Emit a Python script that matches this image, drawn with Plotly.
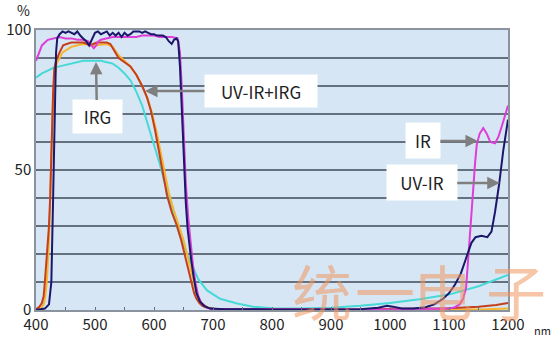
import plotly.graph_objects as go

# ---------------- data ----------------
wl_uvir = [400, 415, 422, 426, 429, 432, 434, 436, 440, 445, 450, 455, 460, 465, 470, 475, 480, 485, 490, 495,
           500, 505, 510, 515, 520, 525, 530, 535, 540, 545, 550, 555, 560, 565, 570, 575, 580, 585, 590, 595,
           600, 605, 610, 615, 620, 625, 630, 634, 638, 641, 644, 648, 651, 654, 657, 660, 663, 667, 672, 678,
           685, 695, 720, 800, 880, 950, 980, 995, 1005, 1020, 1040, 1060, 1075, 1090, 1100, 1110, 1120, 1130,
           1138, 1145, 1155, 1165, 1172, 1178, 1185, 1192, 1200]
t_uvir = [0, 0.5, 2, 10, 40, 75, 92, 97, 98.5, 99.5, 99, 99.5, 99, 98.5, 99.5, 98, 97, 96, 94.5, 96.5,
          99, 99.5, 98.5, 99, 99.5, 98, 99, 98, 99, 97.5, 99, 98, 98.5, 99.5, 99.5, 99.5, 99, 99.5, 99, 98.5,
          98.5, 98, 98, 98, 97.5, 96, 95, 96.5, 97, 96, 87, 65, 50, 38, 29, 23, 18, 12, 6, 3,
          1.5, 0.5, 0.3, 0.2, 0.2, 0.3, 0.8, 1.5, 1.2, 0.5, 0.5, 1, 2, 4, 6, 9, 13, 19,
          24, 26, 26.5, 26, 28, 35, 45, 57, 68]

wl_ir = [400, 405, 410, 420, 430, 440, 450, 460, 470, 480, 488, 494, 498, 502, 506, 510, 520, 530, 540, 550,
         560, 570, 580, 590, 600, 610, 620, 630, 640, 644, 647, 650, 654, 658, 662, 666, 670, 675, 680, 690,
         700, 800, 900, 1000, 1100, 1110, 1118, 1124, 1129, 1132, 1135, 1138, 1141, 1144, 1147, 1152, 1158,
         1164, 1170, 1178, 1184, 1190, 1195, 1200]
t_ir = [89, 92, 94.5, 96.5, 97, 97.5, 97, 97, 96.5, 96.5, 96, 94.5, 93.5, 94.5, 96, 96.5, 97, 97.5, 97.5, 97.5,
        97.5, 97.5, 98, 98, 98, 97.5, 97.5, 97.5, 97, 92, 80, 62, 45, 33, 24, 16, 10, 5, 2.5, 0.8,
        0.3, 0.2, 0.2, 0.2, 0.5, 1, 2, 4, 8, 16, 25, 35, 43, 52, 59, 63, 65,
        63, 60, 59.5, 62, 66, 70, 73]

wl_mix = [400, 405, 410, 413, 415, 417, 419, 422, 424, 425, 427, 429, 431, 434, 440, 446, 452, 460, 470, 480,
          487, 492, 497, 503, 510, 520, 526, 530, 535, 540, 550, 560, 570, 580, 588, 595, 602, 608, 615, 622,
          630, 639, 646, 652, 658, 664, 668, 672, 677, 682, 690, 703, 750, 850, 950, 1050, 1100, 1150, 1180, 1200]
t_mix = [0.3, 1, 2.5, 5, 10, 15, 20, 30, 40, 50, 65, 78, 86, 89, 92, 94.5, 95, 95.5, 95.5, 95.5,
         95, 94.5, 95, 95.5, 95.5, 95.5, 95, 93.5, 91.5, 90, 88.5, 87, 84, 80, 76, 71, 64, 57, 50, 41,
         35, 30, 25, 20, 15, 10, 6, 4, 2.5, 1.5, 0.8, 0.4, 0.3, 0.3, 0.3, 0.4, 0.6, 1.2, 1.8, 2.5]

wl_mix2 = [400, 408, 413, 416, 419, 422, 424, 426, 428, 431, 435, 445, 460, 480, 500, 520, 530, 540, 550, 560,
           570, 580, 590, 597, 604, 611, 618, 625, 633, 642, 650, 656, 662, 667, 672, 677, 683, 690, 700, 800,
           900, 1000, 1100, 1150, 1200]
t_mix2 = [0, 0.5, 2, 5, 12, 25, 40, 55, 70, 82, 88, 92, 94, 95, 94.5, 95, 94, 91, 89, 87,
          84, 80, 75, 70, 64, 57, 50, 42, 36, 30, 25, 20, 15, 10, 6, 3.5, 2, 1, 0.4, 0.2,
          0.2, 0.2, 0.2, 0.2, 0.5]

wl_irg = [400, 410, 420, 430, 440, 450, 460, 470, 480, 490, 500, 510, 520, 530, 540, 550, 560, 570, 580, 590,
          600, 610, 620, 630, 640, 650, 660, 666, 675, 690, 712, 741, 768, 800, 850, 900, 950, 1000, 1050,
          1100, 1150, 1200]
t_irg = [83, 84.5, 85.5, 86.5, 87, 87.5, 88, 88.5, 89, 89, 89, 89, 88.5, 88, 86.5, 84.5, 82, 78, 73, 66,
         59, 52, 44, 36, 29, 23, 18, 15, 11, 7, 4, 2.3, 1.2, 0.6, 0.5, 0.8, 1.5, 2.5, 3.8,
         5.5, 8.5, 12.5]

x_ticks = [400, 500, 600, 700, 800, 900, 1000, 1100, 1200]
y_ticks = [0, 50, 100]

# ---------------- figure ----------------
series = [
    ("IRG", wl_irg, t_irg, "#46d9d6"),
    ("UV-IR+IRG (2)", wl_mix2, t_mix2, "#f6b52e"),
    ("UV-IR+IRG", wl_mix, t_mix, "#c43f1c"),
    ("IR", wl_ir, t_ir, "#dd3fd6"),
    ("UV-IR", wl_uvir, t_uvir, "#1b176a"),
]

fig = go.Figure()
for name, xs, ys, col in series:
    assert len(xs) == len(ys), name
    fig.add_trace(go.Scatter(x=xs, y=ys, mode="lines", name=name, showlegend=False,
                             line=dict(color=col, width=2)))

grid_col = "#66717f"
font_main = "Noto Sans CJK JP, Noto Sans, sans-serif"

fig.update_layout(
    width=560, height=340,
    margin=dict(l=36, r=52, t=30, b=30),
    paper_bgcolor="white",
    plot_bgcolor="#d7e6f5",
    font=dict(family=font_main, color="#222222"),
    xaxis=dict(range=[400, 1200], tickvals=x_ticks, ticks="inside", ticklen=3, tickcolor=grid_col,
               showgrid=False, zeroline=False, showline=True, mirror=True, linecolor="#8a939e",
               linewidth=1.5, tickfont=dict(size=15, color="#222"), automargin=False,
               minor=dict(dtick=50, ticks="inside", ticklen=3, tickcolor=grid_col)),
    yaxis=dict(range=[0, 100], tickvals=y_ticks, ticks="", showgrid=True, gridcolor=grid_col,
               gridwidth=1.5, zeroline=False, showline=True, mirror=True, linecolor="#8a939e",
               linewidth=1.5, tickfont=dict(size=15, color="#222"), automargin=False,
               ticklabelstandoff=0,
               minor=dict(dtick=10, showgrid=True, gridcolor=grid_col, gridwidth=1.5)),
)

arrow_col = "#7f7f7f"
ann_common = dict(showarrow=True, arrowcolor=arrow_col, arrowwidth=2.5, arrowhead=2, arrowsize=1,
                  bgcolor="white", borderpad=0, font=dict(size=17, color="#222", family=font_main),
                  xref="x", yref="y")

fig.add_annotation(text="IRG", x=501.7, y=88.6, ax=1, ay=55, width=49, height=33, **ann_common)
fig.add_annotation(text="UV-IR+IRG", x=584.7, y=78.2, ax=116, ay=0, width=112, height=32, **ann_common)
fig.add_annotation(text="IR", x=1149, y=60.4, ax=-55, ay=0, width=34, height=35, **ann_common)
fig.add_annotation(text="UV-IR", x=1186, y=45.4, ax=-78, ay=0, width=70, height=35, **ann_common)

# axis unit labels
fig.add_annotation(text="%", xref="paper", yref="paper", x=-0.0275, y=1.071, showarrow=False,
                   xanchor="center", yanchor="middle",
                   font=dict(size=14, color="#222", family=font_main))
fig.add_annotation(text="nm", xref="paper", yref="paper", x=1.074, y=-0.071, showarrow=False,
                   xanchor="center", yanchor="middle",
                   font=dict(size=11, color="#222", family=font_main))

# watermark
wm_chars = ["统", "一", "电", "子"]
wm_x = [0.606, 0.739, 0.862, 1.018]
for ch, xp in zip(wm_chars, wm_x):
    fig.add_annotation(text=ch, xref="paper", yref="paper", x=xp, y=0.075, showarrow=False,
                       xanchor="center", yanchor="middle",
                       font=dict(size=60, color="rgba(240,150,95,0.55)", family="Noto Sans CJK SC"))

fig.write_html("out.html")
